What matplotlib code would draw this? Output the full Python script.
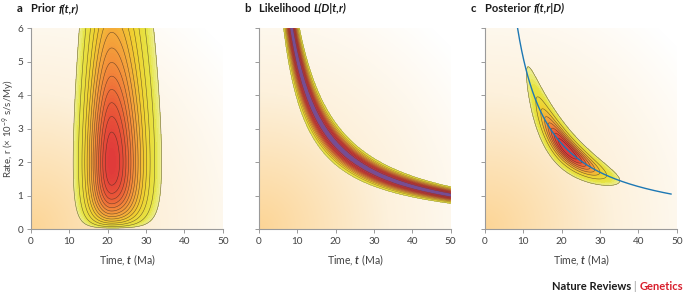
import numpy as np
import matplotlib
matplotlib.use("Agg")
import matplotlib.pyplot as plt
from matplotlib.colors import LinearSegmentedColormap, Normalize

plt.rcParams['font.family'] = ['Lato', 'DejaVu Sans']
plt.rcParams['mathtext.fontset'] = 'custom'
plt.rcParams['mathtext.rm'] = 'Lato'
plt.rcParams['mathtext.it'] = 'Lato:italic'
plt.rcParams['mathtext.bf'] = 'Lato:italic:bold'

# ---- values ----
x_ticks = [0, 10, 20, 30, 40, 50]
y_ticks = [0, 1, 2, 3, 4, 5, 6]
panel_letters = ['a', 'b', 'c']
panel_names = ['Prior ', 'Likelihood ', 'Posterior ']
panel_args = ['f(t,r)', 'L(D|t,r)', 'f(t,r|D)']

# prior on t: skewed bell, mode ~21 Ma, left / right spread
t_mode, t_sd_left, t_sd_right = 21.0, 4.3, 5.6
# prior on r: gamma-like, mode ~2, long upper tail
r_shape, r_rate = 1.89, 0.444
# likelihood: distance d = r*t ~ 51, spread
d_obs, d_sd = 51.0, 5.8
# blue curve end in panel c
curve_t_end = 48.5

# contour settings (fraction of peak)
n_lines = [14, 10, 8]
low_frac = [1 / 15, 0.1, 0.04]
peak_col = [0.8, 1.0, 0.88]
line_alpha = [0.7, 0.45, 0.7]

# ---- surfaces ----
t = np.linspace(0.01, 50, 600)
r = np.linspace(0.005, 6, 500)
T, R = np.meshgrid(t, r)

sd_t = np.where(T < t_mode, t_sd_left, t_sd_right)
prior = np.exp(-0.5 * ((T - t_mode) / sd_t) ** 2) * R ** (r_shape - 1) * np.exp(-r_rate * R)
like = np.exp(-0.5 * ((R * T - d_obs) / d_sd) ** 2)
post = prior * like
surfaces = [prior / prior.max(), like / like.max(), post / post.max()]

cmap = LinearSegmentedColormap.from_list('dens', [
    (0.0, '#ecee92'), (0.05, '#e6e444'), (0.2, '#f0d030'), (0.35, '#f4a83a'),
    (0.5, '#f2843a'), (0.65, '#ea5838'), (0.8, '#e03a3a'), (0.9, '#d63a42'),
    (0.96, '#a8405e'), (1.0, '#6a50a0')])
bg_cmap = LinearSegmentedColormap.from_list('bg', ['#ffffff', '#fdf1dc', '#fcd596'])

# background gradient, bottom-left orange to top-right white
gu, gv = np.meshgrid(np.linspace(0, 1, 200), np.linspace(0, 1, 200))
bg = np.clip(1 - np.sqrt(gu ** 2 + gv ** 2) / 1.35, 0, 1)

fig = plt.figure(figsize=(6.85, 2.97), dpi=100)
lefts = [0.0453, 0.378, 0.708]
width, bottom, height = 0.28, 0.228, 0.677

for i in range(3):
    ax = fig.add_axes([lefts[i], bottom, width, height])
    ax.imshow(bg, extent=[0, 50, 0, 6], origin='lower', aspect='auto',
              cmap=bg_cmap, vmin=0, vmax=1, zorder=0, interpolation='bilinear')
    Z = surfaces[i]
    lo = low_frac[i]
    norm = Normalize(vmin=lo, vmax=lo + (1 - lo) / peak_col[i])
    ax.contourf(T, R, Z, levels=np.linspace(lo, 1.0, 60), cmap=cmap, norm=norm, zorder=1)
    ax.contour(T, R, Z, levels=np.linspace(lo, 1.0, n_lines[i] + 1)[:-1],
               colors='#3b2a22', linewidths=0.4, alpha=line_alpha[i], zorder=2)
    if i == 2:
        tc = np.linspace(d_obs / 6.0, curve_t_end, 300)
        ax.plot(tc, d_obs / tc, color='#1d78b4', lw=1.0, zorder=3)

    ax.set_xlim(0, 50)
    ax.set_ylim(0, 6)
    ax.set_xticks(x_ticks)
    ax.set_yticks(y_ticks)
    for s in ['top', 'right']:
        ax.spines[s].set_visible(False)
    for s in ['left', 'bottom']:
        ax.spines[s].set_color('#9a9a9a')
        ax.spines[s].set_linewidth(0.8)
    ax.tick_params(length=3, width=0.6, color='#8a8a8a', labelsize=7.2,
                   labelcolor='#444444', pad=2.5)
    if i > 0:
        ax.set_yticklabels([])
    else:
        ax.set_ylabel('Rate, r (× 10$^{-9}$ s/s/My)', fontsize=7, color='#444444',
                      va='center')
        ax.yaxis.set_label_coords(-0.115, 0.5)
    ax.set_xlabel('Time, $\\mathbf{t}$ (Ma)', fontsize=7.6, color='#444444', labelpad=5)

    # panel title: letter, name, italic argument
    y_t = 0.972
    fig.text(lefts[i] - 0.021, y_t, panel_letters[i], fontsize=8.2, fontweight='bold',
             color='#1a1a1a', va='center')
    t1 = fig.text(lefts[i], y_t, panel_names[i], fontsize=8, fontweight='bold',
                  color='#1a1a1a', va='center')
    ax.annotate(panel_args[i], xy=(1, 0.5), xycoords=t1, va='center', ha='left',
                fontsize=8, fontweight='bold', style='italic', color='#1a1a1a',
                annotation_clip=False)

# footer
g = fig.text(0.997, 0.022, 'Genetics', fontsize=8, fontweight='bold', color='#d81e2c',
             ha='right', va='baseline')
b2 = plt.annotate(' | ', xy=(0, 0), xycoords=g, ha='right', va='bottom', fontsize=8,
                  color='#999999', annotation_clip=False)
plt.annotate('Nature Reviews', xy=(0, 0), xycoords=b2, ha='right', va='bottom',
             fontsize=8, fontweight='bold', color='#1a1a1a', annotation_clip=False)

fig.savefig('out.png', dpi=100)
